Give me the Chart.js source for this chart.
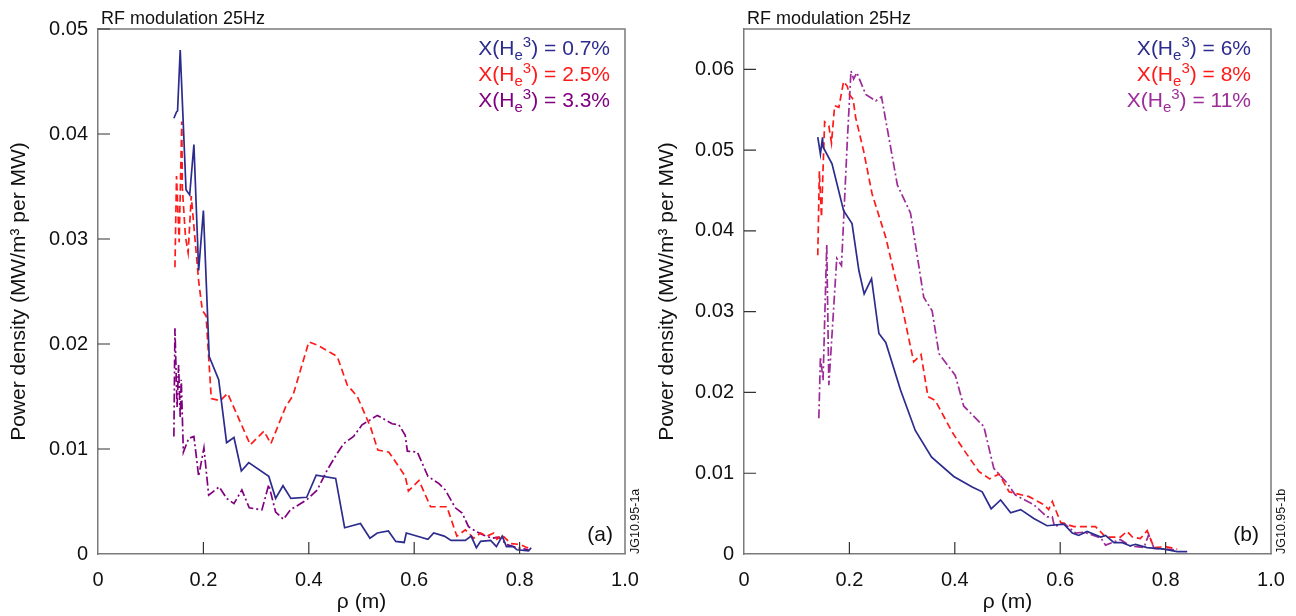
<!DOCTYPE html>
<html>
<head>
<meta charset="utf-8">
<style>
  body { margin: 0; background: #fff; }
  .panel { position: absolute; top: 0; width: 648px; height: 616px; }
  #panelA { left: 0; }
  #panelB { left: 648px; }
</style>
</head>
<body>
<div class="panel" id="panelA"><canvas id="chartA" width="648" height="616"></canvas></div>
<div class="panel" id="panelB"><canvas id="chartB" width="648" height="616"></canvas></div>

<script src="https://cdn.jsdelivr.net/npm/chart.js@4/dist/chart.umd.min.js"></script>
<script>
// ---- panel (a) ----
var rhoA07 = [0.144,0.149,0.151,0.156,0.167,0.174,0.182,0.191,0.200,0.211,0.229,0.244,0.258,0.272,0.286,0.324,0.337,0.351,0.366,0.396,0.414,0.451,0.468,0.498,0.516,0.530,0.551,0.565,0.581,0.585,0.626,0.637,0.657,0.670,0.697,0.708,0.718,0.726,0.745,0.756,0.767,0.775,0.788,0.795,0.817,0.822];
var pA07   = [0.0415,0.0421,0.0422,0.0480,0.0347,0.0342,0.0390,0.0270,0.0327,0.0188,0.0166,0.0106,0.0111,0.0079,0.0087,0.0074,0.0053,0.0065,0.0053,0.0054,0.0075,0.0072,0.0025,0.0029,0.0015,0.0020,0.0022,0.0012,0.0011,0.0020,0.0014,0.0020,0.0017,0.0013,0.0013,0.0017,0.0006,0.0012,0.0013,0.0007,0.0017,0.0007,0.0007,0.0004,0.0003,0.0006];

var rhoA25 = [0.146,0.149,0.154,0.159,0.160,0.166,0.171,0.177,0.191,0.198,0.205,0.215,0.232,0.246,0.289,0.315,0.328,0.356,0.370,0.400,0.416,0.454,0.473,0.492,0.517,0.531,0.552,0.571,0.583,0.589,0.609,0.631,0.662,0.681,0.697,0.713,0.726,0.738,0.751,0.757,0.767,0.783,0.802,0.814,0.824];
var pA25   = [0.0273,0.0360,0.0297,0.0412,0.0349,0.0302,0.0287,0.0341,0.0260,0.0232,0.0227,0.0148,0.0146,0.0153,0.0104,0.0117,0.0105,0.0140,0.0151,0.0202,0.0199,0.0188,0.0161,0.0150,0.0121,0.0099,0.0097,0.0083,0.0074,0.0060,0.0070,0.0045,0.0045,0.0017,0.0023,0.0015,0.0020,0.0017,0.0020,0.0014,0.0018,0.0010,0.0009,0.0006,0.0006];

var rhoA33 = [0.144,0.146,0.150,0.153,0.156,0.158,0.162,0.172,0.182,0.191,0.201,0.210,0.230,0.244,0.258,0.273,0.287,0.311,0.324,0.337,0.352,0.365,0.397,0.416,0.435,0.454,0.466,0.485,0.501,0.530,0.558,0.571,0.583,0.587,0.606,0.626,0.647,0.659,0.678,0.691,0.703,0.719,0.732,0.748,0.760,0.776,0.795,0.817];
var pA33   = [0.0112,0.0215,0.0140,0.0180,0.0130,0.0166,0.0097,0.0110,0.0112,0.0074,0.0101,0.0056,0.0064,0.0053,0.0048,0.0061,0.0044,0.0042,0.0066,0.0040,0.0033,0.0042,0.0052,0.0061,0.0080,0.0096,0.0105,0.0112,0.0123,0.0132,0.0124,0.0123,0.0113,0.0098,0.0097,0.0074,0.0067,0.0061,0.0044,0.0039,0.0026,0.0021,0.0018,0.0015,0.0016,0.0009,0.0006,0.0004];

// ---- panel (b) ----
var rhoB6 = [0.140,0.145,0.149,0.150,0.167,0.189,0.205,0.218,0.228,0.242,0.256,0.269,0.297,0.325,0.356,0.398,0.433,0.452,0.469,0.487,0.506,0.525,0.550,0.575,0.607,0.623,0.635,0.651,0.677,0.686,0.702,0.718,0.733,0.743,0.765,0.797,0.822,0.841];
var pB6   = [0.0516,0.0495,0.0516,0.0504,0.0483,0.0425,0.0409,0.0351,0.0322,0.0341,0.0273,0.0262,0.0203,0.0153,0.0120,0.0096,0.0083,0.0077,0.0056,0.0067,0.0051,0.0055,0.0044,0.0035,0.0037,0.0026,0.0023,0.0028,0.0021,0.0023,0.0014,0.0014,0.0010,0.0012,0.0008,0.0006,0.0003,0.0003];

var rhoB8 = [0.140,0.143,0.147,0.153,0.161,0.166,0.172,0.180,0.189,0.196,0.200,0.207,0.212,0.227,0.243,0.269,0.278,0.300,0.322,0.336,0.349,0.363,0.395,0.417,0.446,0.466,0.484,0.503,0.541,0.569,0.578,0.585,0.601,0.626,0.667,0.686,0.714,0.727,0.737,0.752,0.765,0.778,0.800,0.822];
var pB8   = [0.0370,0.0474,0.0417,0.0535,0.0530,0.0509,0.0555,0.0553,0.0585,0.0579,0.0569,0.0563,0.0540,0.0499,0.0446,0.0392,0.0367,0.0306,0.0238,0.0247,0.0195,0.0190,0.0151,0.0129,0.0102,0.0093,0.0099,0.0077,0.0071,0.0061,0.0055,0.0065,0.0039,0.0034,0.0034,0.0021,0.0021,0.0028,0.0021,0.0019,0.0029,0.0008,0.0009,0.0006];

var rhoB11 = [0.142,0.145,0.150,0.157,0.161,0.176,0.185,0.196,0.203,0.208,0.214,0.231,0.250,0.261,0.291,0.316,0.341,0.357,0.370,0.401,0.417,0.455,0.474,0.499,0.515,0.550,0.575,0.585,0.589,0.607,0.629,0.645,0.677,0.686,0.714,0.733,0.759,0.768,0.778,0.803,0.816];
var pB11   = [0.0168,0.0244,0.0215,0.0383,0.0209,0.0366,0.0357,0.0511,0.0598,0.0588,0.0596,0.0569,0.0561,0.0566,0.0457,0.0422,0.0318,0.0301,0.0248,0.0221,0.0183,0.0158,0.0106,0.0088,0.0073,0.0061,0.0046,0.0046,0.0034,0.0038,0.0026,0.0027,0.0020,0.0011,0.0018,0.0010,0.0008,0.0024,0.0007,0.0006,0.0005];

var xTicks = [0, 0.2, 0.4, 0.6, 0.8, 1.0];
var legendA = ['0.7%', '2.5%', '3.3%'];
var legendB = ['6%', '8%', '11%'];

var FONT = "'Liberation Sans', Arial, Helvetica, sans-serif";
var BLUE = '#2c2c8e', RED = '#ff1a1a', PURPLE_A = '#800080', PURPLE_B = '#9c2c98';
var AXIS = '#7a7a7a';

function pts(xs, ys) {
  return xs.map(function (x, i) { return { x: x, y: ys[i] }; });
}

// frame, inward ticks, legend text, panel tags
var decor = {
  id: 'decor',
  afterDraw: function (chart, args, o) {
    var ctx = chart.ctx, a = chart.chartArea;
    var xs = chart.scales.x, ys = chart.scales.y;
    ctx.save();
    // top + right frame
    ctx.strokeStyle = AXIS;
    ctx.lineWidth = 1.5;
    ctx.beginPath();
    ctx.moveTo(a.left, a.top);
    ctx.lineTo(a.right, a.top);
    ctx.lineTo(a.right, a.bottom);
    ctx.stroke();
    // inward ticks
    ctx.strokeStyle = '#333';
    ctx.lineWidth = 1.2;
    ctx.beginPath();
    xs.ticks.forEach(function (t) {
      var px = xs.getPixelForValue(t.value);
      if (px <= a.left + 1 || px >= a.right - 1) return;
      ctx.moveTo(px, a.bottom);
      ctx.lineTo(px, a.bottom - 12);
    });
    ys.ticks.forEach(function (t) {
      var py = ys.getPixelForValue(t.value);
      if (py >= a.bottom - 1) return;
      ctx.moveTo(a.left, py);
      ctx.lineTo(a.left + 12, py);
    });
    ctx.stroke();

    // title above the frame
    ctx.fillStyle = '#111';
    ctx.font = '18px ' + FONT;
    ctx.textAlign = 'left';
    ctx.textBaseline = 'alphabetic';
    ctx.fillText('RF modulation 25Hz', a.left + 3, 24);

    // legend entries, right aligned
    var big = '21px ' + FONT, small = '15px ' + FONT;
    o.labels.forEach(function (lab, i) {
      var segs = [
        { t: 'X(H', f: big, dy: 0 },
        { t: 'e', f: small, dy: 5 },
        { t: '3', f: small, dy: -8 },
        { t: ') = ' + lab, f: big, dy: 0 }
      ];
      var w = 0;
      segs.forEach(function (s) { ctx.font = s.f; s.w = ctx.measureText(s.t).width; w += s.w; });
      var x = a.right - o.legendGap - w, y = 55 + i * 26;
      ctx.fillStyle = o.colors[i];
      segs.forEach(function (s) {
        ctx.font = s.f;
        ctx.fillText(s.t, x, y + s.dy);
        x += s.w;
      });
    });

    // (a)/(b) tag
    ctx.fillStyle = '#111';
    ctx.font = '21px ' + FONT;
    ctx.textAlign = 'right';
    ctx.fillText(o.tag, a.right - 12, a.bottom - 13);

    // vertical figure id
    ctx.font = '12.5px ' + FONT;
    ctx.translate(a.right + 14, a.bottom);
    ctx.rotate(-Math.PI / 2);
    ctx.textAlign = 'left';
    ctx.fillText(o.figId, 0, 0);
    ctx.restore();
  }
};

function makeChart(id, sets, yMax, leftW, rightPad, legendLabels, legendColors, legendGap, tag, figId) {
  return new Chart(document.getElementById(id), {
    type: 'line',
    data: {
      datasets: sets.map(function (s) {
        return {
          data: pts(s.x, s.y),
          borderColor: s.color,
          borderWidth: 1.7,
          borderDash: s.dash,
          pointRadius: 0,
          tension: 0,
          fill: false
        };
      })
    },
    options: {
      responsive: false,
      animation: false,
      devicePixelRatio: 1,
      layout: { padding: { top: 29, right: rightPad, left: 0, bottom: 0 } },
      plugins: {
        legend: { display: false },
        tooltip: { enabled: false },
        decor: { labels: legendLabels, colors: legendColors, legendGap: legendGap, tag: tag, figId: figId }
      },
      scales: {
        x: {
          type: 'linear',
          min: 0, max: 1,
          afterBuildTicks: function (s) { s.ticks = xTicks.map(function (v) { return { value: v }; }); },
          afterFit: function (s) { s.height = 62; },
          grid: { display: false },
          border: { display: true, color: AXIS, width: 1.5 },
          ticks: {
            padding: 6,
            color: '#111',
            font: { family: FONT, size: 20 },
            callback: function (v) { return v === 0 ? '0' : v.toFixed(1); }
          },
          title: { display: true, text: 'ρ (m)', color: '#111', font: { family: FONT, size: 21 }, padding: { top: 0, bottom: 1 } }
        },
        y: {
          min: 0, max: yMax,
          afterFit: function (s) { s.width = leftW; },
          grid: { display: false },
          border: { display: true, color: AXIS, width: 1.5 },
          ticks: {
            stepSize: 0.01,
            includeBounds: false,
            padding: 2,
            color: '#111',
            font: { family: FONT, size: 20 },
            callback: function (v) { return v === 0 ? '0' : v.toFixed(2); }
          },
          title: { display: true, text: 'Power density (MW/m³ per MW)', color: '#111', font: { family: FONT, size: 21 }, padding: { top: 7, bottom: 0 } }
        }
      }
    },
    plugins: [decor]
  });
}

makeChart('chartA', [
  { x: rhoA07, y: pA07, color: BLUE, dash: [] },
  { x: rhoA25, y: pA25, color: RED, dash: [7, 4] },
  { x: rhoA33, y: pA33, color: PURPLE_A, dash: [9, 3, 2, 3] }
], 0.05, 98, 23, legendA, [BLUE, RED, PURPLE_A], 15, '(a)', 'JG10.95-1a');

makeChart('chartB', [
  { x: rhoB6, y: pB6, color: BLUE, dash: [] },
  { x: rhoB8, y: pB8, color: RED, dash: [7, 4] },
  { x: rhoB11, y: pB11, color: PURPLE_B, dash: [9, 3, 2, 3] }
], 0.065, 96, 25, legendB, [BLUE, RED, PURPLE_B], 20, '(b)', 'JG10.95-1b');
</script>
</body>
</html>
